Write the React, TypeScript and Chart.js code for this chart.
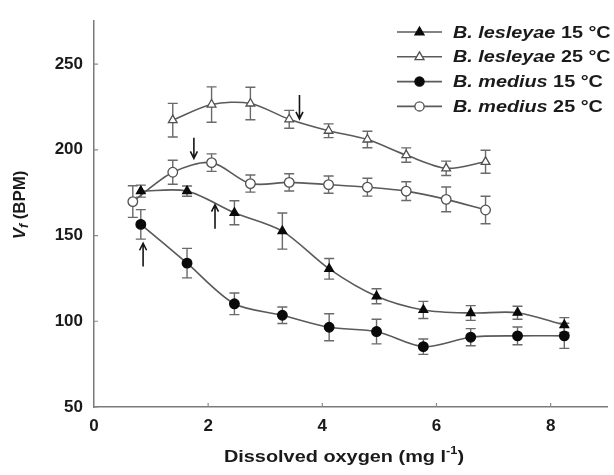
import React, { useEffect, useRef } from "react";
import { Chart, registerables } from "chart.js";

Chart.register(...registerables);

// ---- Data ----
const lesleyae15X = [0.82, 1.63, 2.46, 3.3, 4.12, 4.95, 5.77, 6.6, 7.42, 8.24];
const lesleyae15Y = [175.9, 175.9, 163.3, 152.6, 130.6, 114.6, 106.6, 104.8, 105, 97.8];
const lesleyae15Err = [3.5, 3, 7, 10.5, 6, 4.4, 5, 4.3, 3.8, 4.3];

const lesleyae25X = [1.38, 2.06, 2.74, 3.42, 4.11, 4.79, 5.47, 6.17, 6.86];
const lesleyae25Y = [217.3, 226.4, 227, 217.8, 211.1, 206, 196.9, 189.2, 193];
const lesleyae25Err = [9.8, 10.3, 9.5, 5.2, 4, 4.8, 4.2, 4.2, 6.7];

const medius15X = [0.82, 1.63, 2.46, 3.3, 4.12, 4.95, 5.77, 6.6, 7.42, 8.24];
const medius15Y = [156.5, 133.9, 110.2, 103.5, 96.5, 94, 85.2, 90.7, 91.5, 91.5];
const medius15Err = [8.6, 8.6, 6.3, 4.8, 7.9, 7.2, 4.5, 5, 5.2, 7.3];

const medius25X = [0.68, 1.38, 2.06, 2.74, 3.42, 4.11, 4.79, 5.47, 6.17, 6.86];
const medius25Y = [169.8, 186.9, 192.5, 180.3, 181, 179.7, 178.2, 175.9, 171.1, 164.9];
const medius25Err = [9.2, 7, 5.1, 5, 5, 5, 5.2, 5.5, 7.2, 8];

const seriesSpecies = ["B. lesleyae", "B. lesleyae", "B. medius", "B. medius"];
const seriesTemps = ["15 °C", "25 °C", "15 °C", "25 °C"];

const xTicks = [0, 2, 4, 6, 8];
const yTicks = [50, 100, 150, 200, 250];

// arrows: x position, tail value, head value
const arrowX = [3.6, 1.75, 2.12, 0.86];
const arrowTail = [232, 207, 154, 132];
const arrowHead = [218, 195, 168, 145.5];

const xTitle = "Dissolved oxygen (mg l";
const xTitleSup = "-1";
const yTitleV = "V";
const yTitleSub = "f";
const yTitleRest = " (BPM)";

const FAMILY = '"Liberation Sans", Arial, Helvetica, sans-serif';
const LINE = "#5a5a5a";
const ERR = "#6a6a6a";

const toPts = (xs: number[], ys: number[]) => xs.map((x, i) => ({ x, y: ys[i] }));
const errSets = [lesleyae15Err, lesleyae25Err, medius15Err, medius25Err];

function drawParts(
  ctx: CanvasRenderingContext2D,
  parts: { t: string; font: string; dy?: number }[],
  x: number,
  y: number,
  align: "left" | "center",
  sx: number
) {
  ctx.save();
  ctx.translate(x, y);
  ctx.scale(sx, 1);
  let total = 0;
  parts.forEach((p) => {
    ctx.font = p.font;
    total += ctx.measureText(p.t).width;
  });
  let cx = align === "center" ? -total / 2 : 0;
  ctx.textBaseline = "middle";
  ctx.textAlign = "left";
  parts.forEach((p) => {
    ctx.font = p.font;
    ctx.fillText(p.t, cx, p.dy || 0);
    cx += ctx.measureText(p.t).width;
  });
  ctx.restore();
}

const decorPlugin = {
  id: "decor",
  beforeDatasetsDraw(chart: any) {
    const ctx = chart.ctx as CanvasRenderingContext2D;
    const xs = chart.scales.x;
    const ys = chart.scales.y;
    ctx.save();
    ctx.strokeStyle = ERR;
    ctx.lineWidth = 1.4;
    chart.data.datasets.forEach((ds: any, i: number) => {
      const errs = errSets[i];
      ds.data.forEach((p: any, j: number) => {
        const px = xs.getPixelForValue(p.x);
        const t = ys.getPixelForValue(p.y + errs[j]);
        const b = ys.getPixelForValue(p.y - errs[j]);
        ctx.beginPath();
        ctx.moveTo(px, t);
        ctx.lineTo(px, b);
        ctx.moveTo(px - 5, t);
        ctx.lineTo(px + 5, t);
        ctx.moveTo(px - 5, b);
        ctx.lineTo(px + 5, b);
        ctx.stroke();
      });
    });
    ctx.restore();
  },
  afterDatasetsDraw(chart: any) {
    const ctx = chart.ctx as CanvasRenderingContext2D;
    const xs = chart.scales.x;
    const ys = chart.scales.y;
    ctx.save();
    ctx.strokeStyle = "#151515";
    ctx.lineWidth = 1.6;
    arrowX.forEach((ax, i) => {
      const px = xs.getPixelForValue(ax);
      const t = ys.getPixelForValue(arrowTail[i]);
      const h = ys.getPixelForValue(arrowHead[i]);
      const dir = h > t ? 1 : -1;
      ctx.beginPath();
      ctx.moveTo(px, t);
      ctx.lineTo(px, h);
      ctx.moveTo(px - 3.5, h - dir * 7);
      ctx.lineTo(px, h);
      ctx.lineTo(px + 3.5, h - dir * 7);
      ctx.stroke();
    });
    ctx.restore();
  },
  afterDraw(chart: any) {
    const ctx = chart.ctx as CanvasRenderingContext2D;
    const xs = chart.scales.x;
    const ys = chart.scales.y;
    const area = chart.chartArea;
    ctx.save();
    // inner tick marks
    ctx.strokeStyle = "#8a8a8a";
    ctx.lineWidth = 1.2;
    ctx.beginPath();
    yTicks.forEach((v) => {
      const py = ys.getPixelForValue(v);
      ctx.moveTo(area.left, py);
      ctx.lineTo(area.left + 4, py);
    });
    xTicks.slice(1).forEach((v) => {
      const px = xs.getPixelForValue(v);
      ctx.moveTo(px, area.bottom);
      ctx.lineTo(px, area.bottom - 4);
    });
    ctx.stroke();

    // legend
    const lx0 = 397;
    const lx1 = 442;
    const ly0 = 32;
    const lstep = 24.8;
    chart.data.datasets.forEach((ds: any, i: number) => {
      const y = ly0 + i * lstep;
      ctx.strokeStyle = LINE;
      ctx.lineWidth = 1.6;
      ctx.beginPath();
      ctx.moveTo(lx0, y);
      ctx.lineTo(lx1, y);
      ctx.stroke();
      const mx = (lx0 + lx1) / 2;
      ctx.fillStyle = ds.pointBackgroundColor;
      ctx.strokeStyle = ds.pointBorderColor;
      ctx.lineWidth = 1.3;
      ctx.beginPath();
      if (ds.pointStyle === "triangle") {
        const r = 5;
        ctx.moveTo(mx, y - r);
        ctx.lineTo(mx + r * 0.9, y + r * 0.55);
        ctx.lineTo(mx - r * 0.9, y + r * 0.55);
        ctx.closePath();
      } else {
        ctx.arc(mx, y, 4.6, 0, Math.PI * 2);
      }
      ctx.fill();
      ctx.stroke();
      ctx.fillStyle = "#1a1a1a";
      drawParts(
        ctx,
        [
          { t: seriesSpecies[i], font: `italic bold 16.5px ${FAMILY}` },
          { t: " " + seriesTemps[i], font: `bold 16.5px ${FAMILY}` },
        ],
        453,
        y + 1,
        "left",
        1.2
      );
    });

    // axis titles
    ctx.fillStyle = "#1a1a1a";
    drawParts(
      ctx,
      [
        { t: xTitle, font: `bold 17px ${FAMILY}` },
        { t: xTitleSup, font: `bold 11px ${FAMILY}`, dy: -6 },
        { t: ")", font: `bold 17px ${FAMILY}` },
      ],
      344,
      457,
      "center",
      1.17
    );
    ctx.save();
    ctx.translate(21, 205);
    ctx.rotate(-Math.PI / 2);
    drawParts(
      ctx,
      [
        { t: yTitleV, font: `italic bold 16px ${FAMILY}` },
        { t: yTitleSub, font: `italic bold 12px ${FAMILY}`, dy: 4 },
        { t: yTitleRest, font: `bold 16px ${FAMILY}` },
      ],
      0,
      0,
      "center",
      1.05
    );
    ctx.restore();
    ctx.restore();
  },
};

export default function App() {
  const ref = useRef<HTMLCanvasElement | null>(null);
  useEffect(() => {
    if (!ref.current) return;
    const mk = (
      label: string,
      xs: number[],
      ys: number[],
      style: string,
      filled: boolean
    ) => ({
      label,
      data: toPts(xs, ys),
      borderColor: LINE,
      borderWidth: 1.6,
      tension: 0.3,
      pointStyle: style,
      pointRadius: style === "triangle" ? 5 : 4.8,
      pointBackgroundColor: filled ? "#0a0a0a" : "#ffffff",
      pointBorderColor: filled ? "#0a0a0a" : "#505050",
      pointBorderWidth: 1.3,
      fill: false,
    });
    const chart = new Chart(ref.current, {
      type: "line",
      data: {
        datasets: [
          mk(seriesSpecies[0] + " " + seriesTemps[0], lesleyae15X, lesleyae15Y, "triangle", true),
          mk(seriesSpecies[1] + " " + seriesTemps[1], lesleyae25X, lesleyae25Y, "triangle", false),
          mk(seriesSpecies[2] + " " + seriesTemps[2], medius15X, medius15Y, "circle", true),
          mk(seriesSpecies[3] + " " + seriesTemps[3], medius25X, medius25Y, "circle", false),
        ] as any,
      },
      options: {
        responsive: false,
        animation: false,
        layout: { padding: { top: 13, right: 4, left: 0, bottom: 0 } },
        plugins: { legend: { display: false }, tooltip: { enabled: false } },
        scales: {
          x: {
            type: "linear",
            min: 0,
            max: 9,
            afterBuildTicks: (s: any) => {
              s.ticks = xTicks.map((v) => ({ value: v }));
            },
            afterFit: (s: any) => {
              s.height = 68;
            },
            grid: { display: false, drawTicks: false },
            border: { display: true, color: "#7a7a7a", width: 1.5 },
            ticks: {
              padding: 9,
              color: "#1a1a1a",
              font: { family: FAMILY, size: 17, weight: "bold" },
            },
          },
          y: {
            type: "linear",
            min: 50,
            max: 275,
            afterBuildTicks: (s: any) => {
              s.ticks = yTicks.map((v) => ({ value: v }));
            },
            afterFit: (s: any) => {
              s.width = 94;
            },
            grid: { display: false, drawTicks: false },
            border: { display: true, color: "#7a7a7a", width: 1.5 },
            ticks: {
              padding: 11,
              color: "#1a1a1a",
              font: { family: FAMILY, size: 17, weight: "bold" },
            },
          },
        },
      } as any,
      plugins: [decorPlugin as any],
    });
    return () => chart.destroy();
  }, []);
  return (
    <div style={{ position: "fixed", left: 0, top: 0, width: 614, height: 475, background: "#fff" }}>
      <canvas ref={ref} width={614} height={475} />
    </div>
  );
}
